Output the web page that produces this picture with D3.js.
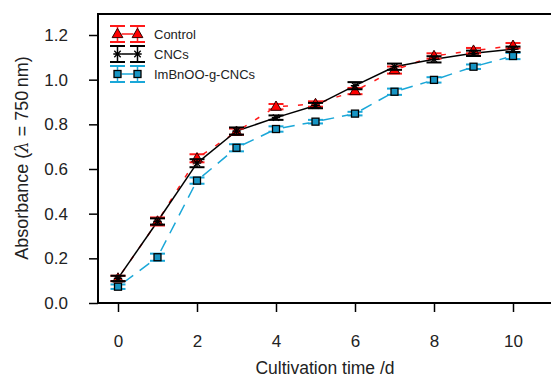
<!DOCTYPE html>
<html>
<head>
<meta charset="utf-8">
<script src="https://cdn.jsdelivr.net/npm/d3@7"></script>
<style>
  body { margin: 0; background: #fff; }
  svg { font-family: "Liberation Sans", Arial, sans-serif; }
</style>
</head>
<body>
<svg id="chart"></svg>
<script>
// cultivation days
var days = [0, 1, 2, 3, 4, 5, 6, 7, 8, 9, 10];

// absorbance means
var controlVals = [0.11, 0.365, 0.648, 0.767, 0.879, 0.891, 0.949, 1.043, 1.106, 1.130, 1.152];
var cncsVals    = [0.11, 0.365, 0.626, 0.770, 0.830, 0.884, 0.973, 1.058, 1.091, 1.118, 1.136];
var imbnVals    = [0.073, 0.205, 0.548, 0.695, 0.779, 0.812, 0.848, 0.946, 0.999, 1.058, 1.106];

// error bar half widths
var controlErr = [0.012, 0.018, 0.018, 0.014, 0.012, 0.012, 0.014, 0.016, 0.012, 0.012, 0.012];
var cncsErr    = [0.012, 0.014, 0.018, 0.016, 0.010, 0.012, 0.016, 0.014, 0.014, 0.012, 0.012];
var imbnErr    = [0.010, 0.016, 0.014, 0.016, 0.012, 0.008, 0.008, 0.014, 0.012, 0.010, 0.014];

var xTicks = [0, 2, 4, 6, 8, 10];
var yTicks = [0.0, 0.2, 0.4, 0.6, 0.8, 1.0, 1.2];

var seriesNames = ["Control", "CNCs", "ImBnOO-g-CNCs"];

var W = 551, H = 379;
var svg = d3.select("#chart").attr("width", W).attr("height", H);

var x = d3.scaleLinear().domain([0, 10]).range([118, 513]);
var y = d3.scaleLinear().domain([0, 1.2]).range([303, 35]);

var blue = "#1aa7d8";
var series = [
  {name: seriesNames[0], vals: controlVals, err: controlErr, color: "#ff1a1a", dash: "5,10", gap: 7, marker: "tri"},
  {name: seriesNames[1], vals: cncsVals, err: cncsErr, color: "#000", dash: null, gap: 0, marker: "star"},
  {name: seriesNames[2], vals: imbnVals, err: imbnErr, color: blue, dash: "12,8", gap: 7, marker: "sq"}
];

// frame
svg.append("rect")
  .attr("x", 98).attr("y", 14).attr("width", 470).attr("height", 289)
  .attr("fill", "none").attr("stroke", "#000").attr("stroke-width", 2);

// axes
var xAxis = svg.append("g").attr("transform", "translate(0,303)")
  .call(d3.axisBottom(x).tickValues(xTicks).tickSize(9).tickPadding(23).tickFormat(d3.format("d")));
var yAxis = svg.append("g").attr("transform", "translate(98,0)")
  .call(d3.axisLeft(y).tickValues(yTicks).tickSize(9).tickPadding(21).tickFormat(d3.format(".1f")));
[xAxis, yAxis].forEach(function(a) {
  a.select(".domain").remove();
  a.selectAll(".tick line").attr("stroke", "#000").attr("stroke-width", 1.5);
  a.selectAll(".tick text").attr("font-size", 17).attr("fill", "#222")
    .style("font-family", "Liberation Sans, Arial, sans-serif");
});
yAxis.selectAll(".tick text").attr("x", -30);

// axis titles
svg.append("text").attr("x", 325).attr("y", 374).attr("text-anchor", "middle")
  .attr("font-size", 17.5).attr("fill", "#222").text("Cultivation time /d");
var yt = svg.append("text").attr("transform", "translate(28,158) rotate(-90)")
  .attr("text-anchor", "middle").attr("font-size", 18).attr("fill", "#222");
yt.append("tspan").text("Absorbance (");
yt.append("tspan").attr("font-style", "italic").attr("font-family", "DejaVu Serif, serif").text("λ");
yt.append("tspan").text(" = 750\u2009nm)");

function drawMarker(g, type, cx, cy, color) {
  if (type === "tri") {
    g.append("path").attr("d", d3.symbol(d3.symbolTriangle, 50)())
      .attr("transform", "translate(" + cx + "," + (cy + 0.5) + ")")
      .attr("fill", "#f00").attr("stroke", "#300").attr("stroke-width", 1);
  } else if (type === "sq") {
    g.append("rect").attr("x", cx - 3.5).attr("y", cy - 3.5).attr("width", 7).attr("height", 7)
      .attr("fill", "#1795c4").attr("stroke", "#000").attr("stroke-width", 1.3);
  } else {
    var r = 3.2;
    g.append("path")
      .attr("d", "M" + (cx - r) + "," + (cy - r) + "L" + (cx + r) + "," + (cy + r) +
                 "M" + (cx - r) + "," + (cy + r) + "L" + (cx + r) + "," + (cy - r) +
                 "M" + (cx - r - 1) + "," + cy + "L" + (cx + r + 1) + "," + cy)
      .attr("stroke", "#000").attr("stroke-width", 1.3);
  }
}

function drawErr(g, cx, lo, hi, color) {
  var cw = 7.5;
  g.append("line").attr("x1", cx).attr("x2", cx).attr("y1", lo).attr("y2", hi)
    .attr("stroke", color).attr("stroke-width", 1.5);
  [lo, hi].forEach(function(yy) {
    g.append("line").attr("x1", cx - cw).attr("x2", cx + cw).attr("y1", yy).attr("y2", yy)
      .attr("stroke", color).attr("stroke-width", 2);
  });
}

// lines with gaps around the points
series.forEach(function(s) {
  var g = svg.append("g");
  for (var i = 0; i < days.length - 1; i++) {
    var x1 = x(days[i]), y1 = y(s.vals[i]), x2 = x(days[i + 1]), y2 = y(s.vals[i + 1]);
    var dx = x2 - x1, dy = y2 - y1, len = Math.sqrt(dx * dx + dy * dy);
    var ux = dx / len, uy = dy / len;
    g.append("line")
      .attr("x1", x1 + ux * s.gap).attr("y1", y1 + uy * s.gap)
      .attr("x2", x2 - ux * s.gap).attr("y2", y2 - uy * s.gap)
      .attr("stroke", s.color).attr("stroke-width", 1.5)
      .attr("stroke-dasharray", s.dash);
  }
});

// error bars and markers (blue first, then control, then CNCs)
[series[2], series[0], series[1]].forEach(function(s) {
  var g = svg.append("g");
  days.forEach(function(d, i) {
    drawErr(g, x(d), y(s.vals[i] - s.err[i]), y(s.vals[i] + s.err[i]), s.color);
  });
  days.forEach(function(d, i) {
    drawMarker(g, s.marker, x(d), y(s.vals[i]), s.color);
  });
});

// legend
var legRows = [34, 54, 74];
series.forEach(function(s, i) {
  var g = svg.append("g");
  var cy = legRows[i], xa = 117.5, xb = 137.5;
  g.append("line").attr("x1", xa + 4).attr("x2", xb - 4).attr("y1", cy).attr("y2", cy)
    .attr("stroke", s.color).attr("stroke-width", 1.5);
  [xa, xb].forEach(function(cx) {
    drawErr(g, cx, cy + 8, cy - 8, s.color);
    drawMarker(g, s.marker, cx, cy, s.color);
  });
  g.append("text").attr("x", 154).attr("y", cy + 4.5)
    .attr("font-size", 13).attr("fill", "#222").text(s.name);
});
</script>
</body>
</html>
